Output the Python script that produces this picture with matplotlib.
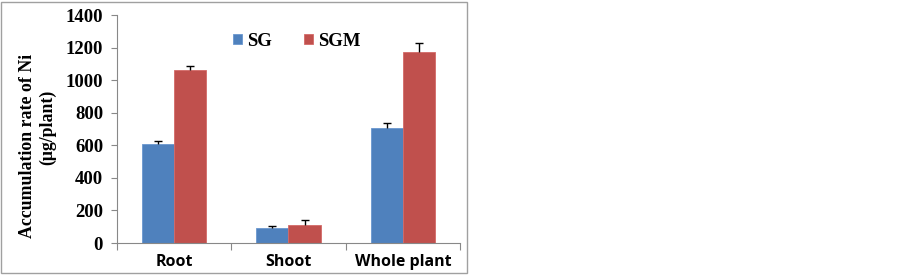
import numpy as np
import matplotlib
matplotlib.use("Agg")
import matplotlib.pyplot as plt
from matplotlib.patches import Rectangle

# data
categories = ["Root", "Shoot", "Whole plant"]
sg = [610, 94, 706]
sgm = [1062, 112, 1172]
sg_err = [15, 10, 28]
sgm_err = [26, 28, 57]

fig = plt.figure(figsize=(9.03, 2.76), dpi=100)
ax = fig.add_axes([117 / 903, 1 - 243 / 276, (460 - 117) / 903, (243 - 15) / 276])

x = np.arange(len(categories))
w = 0.28
blue = "#4F81BD"
red = "#C0504D"
for xs, vals, errs, col, ec, lab in [(x - w / 2, sg, sg_err, blue, "#6A97CF", "SG"),
                                      (x + w / 2, sgm, sgm_err, red, "#D46A67", "SGM")]:
    ax.bar(xs, vals, w, color=col, edgecolor=ec, linewidth=0.6, label=lab, zorder=2)
    tops = np.array(vals) + np.array(errs)
    ax.vlines(xs, vals, tops, color="black", linewidth=1, zorder=3)
    ax.plot(xs, tops, ls="none", marker="_", ms=6, mew=1, color="black", zorder=3)

ax.set_xlim(-0.5, 2.5)
ax.set_ylim(0, 1400)
ax.set_yticks(range(0, 1401, 200))
ax.set_yticklabels([str(v) for v in range(0, 1401, 200)],
                   fontfamily="Liberation Serif", fontweight="bold", fontsize=13.5)
ax.set_xticks([-0.5, 0.5, 1.5, 2.5])
ax.set_xticklabels([])
ax.set_xticks(x, minor=True)
ax.set_xticklabels(categories, minor=True, fontfamily="Open Sans", fontweight="bold", fontsize=11.5)
ax.tick_params(axis="x", which="minor", length=0, pad=8)
ax.tick_params(axis="x", which="major", length=5, color="#888888", direction="out")
ax.tick_params(axis="y", length=4, color="#888888", pad=6)

for s in ["top", "right"]:
    ax.spines[s].set_visible(False)
for s in ["left", "bottom"]:
    ax.spines[s].set_color("#888888")
    ax.spines[s].set_linewidth(0.8)

fig.text(28 / 903, 1 - 146 / 276, "Accumulation rate of Ni", rotation=90, ha="center", va="center",
         fontfamily="Liberation Serif", fontweight="bold", fontsize=12.8)
fig.text(48 / 903, 1 - 127 / 276, "(\u03bcg/plant)", rotation=90, ha="center", va="center",
         fontfamily="Liberation Serif", fontweight="bold", fontsize=12.8)

leg = ax.legend(loc="center", bbox_to_anchor=((297 - 117) / 343, (243 - 41) / 228), ncol=2,
                frameon=False, prop=dict(family="Liberation Serif", weight="bold", size=13.5),
                handlelength=0.45, handleheight=0.45, handletextpad=0.3, columnspacing=1.7)

fig.patches.append(Rectangle((1 / 903, 3 / 276), 466 / 903, 271 / 276, transform=fig.transFigure,
                             fill=False, edgecolor="#A0A0A0", linewidth=1))

fig.savefig("out.png", dpi=100)
